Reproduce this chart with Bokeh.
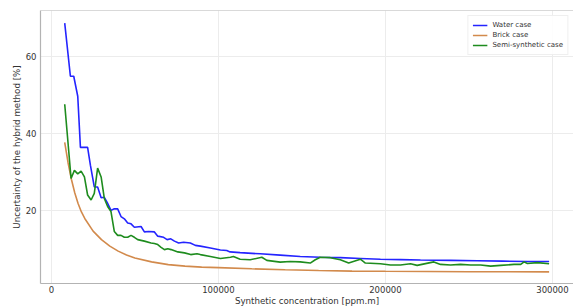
from bokeh.plotting import figure
from bokeh.models import FixedTicker, PrintfTickFormatter, Range1d, Span, Legend, LegendItem
from bokeh.embed import file_html
from bokeh.resources import INLINE

# ---- data (x in ppm.m, values in %) ----
water_x = [8000, 11400, 13400, 15800, 17400, 21700, 23400, 25700, 27700, 29800, 31700, 33400,
           35700, 37700, 39700, 41700, 43700, 45700, 47700, 49700, 53700, 55700, 58300, 61700,
           63700, 67200, 69300, 71500, 73700, 76200, 79200, 83200, 86200, 89200, 95200, 101200,
           105000, 107000, 113000, 125000, 137000, 149000, 161000, 173000, 185000, 197000,
           209000, 221000, 239000, 255000, 270000, 285000, 298000]
water_y = [68.6, 54.8, 54.8, 49.6, 36.3, 36.3, 31.6, 26.0, 26.0, 23.2, 23.3, 22.0,
           19.9, 20.3, 20.3, 18.3, 17.7, 16.6, 16.4, 15.5, 15.7, 14.3, 14.4, 14.3,
           13.2, 12.9, 12.3, 12.5, 11.9, 11.4, 11.6, 11.4, 10.8, 10.6, 10.1, 9.6,
           9.45, 9.1, 8.9, 8.6, 8.25, 7.9, 7.7, 7.6, 7.4, 7.2,
           7.1, 7.0, 6.9, 6.8, 6.7, 6.6, 6.6]

brick_x = [8000, 10000, 12000, 14000, 16000, 18000, 20000, 25000, 30000, 35000, 40000, 45000,
           50000, 60000, 70000, 80000, 90000, 100000, 120000, 140000, 160000, 180000, 200000,
           250000, 298000]
brick_y = [37.6, 32.3, 28.0, 24.5, 21.7, 19.5, 17.8, 14.5, 12.3, 10.6, 9.3, 8.3,
           7.5, 6.5, 5.8, 5.4, 5.15, 5.0, 4.7, 4.45, 4.25, 4.1, 4.05,
           3.95, 3.9]

semi_x = [8000, 11800, 13800, 15800, 17800, 19800, 21700, 23800, 25700, 27700, 29800, 31700,
          33700, 35700, 37700, 39700, 41700, 43700, 45700, 47700, 49700, 51700, 55700, 59700,
          61700, 63700, 65700, 67700, 69700, 71700, 75700, 79700, 83400, 87200, 89200, 95200,
          101200, 107200, 109000, 113000, 119000, 126000, 129000, 137000, 143000, 149000,
          155000, 158000, 161000, 167000, 173000, 178000, 185000, 188000, 197000, 203000,
          209000, 215000, 219000, 229000, 233000, 239000, 245000, 251000, 257000, 263000,
          269000, 277000, 281000, 283000, 285000, 291000, 298000]
semi_y = [47.5, 28.2, 30.3, 29.4, 30.1, 28.6, 23.9, 22.6, 24.3, 30.9, 28.6, 23.0,
          20.9, 19.6, 14.4, 13.4, 13.4, 12.9, 12.9, 13.4, 12.9, 12.3, 11.9, 11.4,
          11.3, 11.0, 10.3, 9.7, 9.9, 9.7, 9.1, 8.85, 8.4, 8.6, 8.4, 7.9,
          7.4, 7.7, 7.9, 7.2, 7.05, 7.7, 6.9, 6.45, 6.6, 6.5,
          6.2, 7.05, 7.7, 7.6, 7.05, 6.2, 7.2, 6.2, 6.0, 5.7,
          5.7, 6.0, 5.6, 6.5, 5.85, 5.7, 5.85, 5.7, 5.7, 5.4,
          5.6, 5.85, 5.85, 6.5, 6.1, 6.3, 6.0]

x_ticks = [0, 100000, 200000, 300000]
y_ticks = [20, 40, 60]
series_names = ["Water case", "Brick case", "Semi-synthetic case"]
series_colors = ["#2424ff", "#d28a4c", "#1e8c1e"]

FONT = "DejaVu Sans"
AXIS_GRAY = "#b3b3b3"

y_end = 71.9
p = figure(width=573, height=308, output_backend="svg", toolbar_location=None,
           x_range=Range1d(-6500, 312600), y_range=Range1d(0.88, y_end),
           min_border_left=40, min_border_top=10, min_border_right=0, min_border_bottom=0)
p.outline_line_color = None
p.background_fill_color = "white"

for ax in (p.xaxis[0], p.yaxis[0]):
    ax.axis_line_color = AXIS_GRAY
    ax.axis_line_width = 1.2
    ax.major_tick_line_color = None
    ax.minor_tick_line_color = None
    ax.major_tick_out = 0
    ax.major_tick_in = 0
    ax.minor_tick_out = 0
    ax.minor_tick_in = 0
    ax.major_label_text_font = FONT
    ax.major_label_text_font_size = "8.5px"
    ax.major_label_text_color = "#333333"
    ax.axis_label_text_font = FONT
    ax.axis_label_text_font_size = "8.7px"
    ax.axis_label_text_font_style = "normal"
    ax.axis_label_text_color = "#333333"

p.xaxis.ticker = FixedTicker(ticks=x_ticks)
p.yaxis.ticker = FixedTicker(ticks=y_ticks)
p.xaxis.formatter = PrintfTickFormatter(format="%d")
p.xaxis.major_label_standoff = 2
p.xaxis.axis_label_standoff = 0
p.yaxis.major_label_standoff = 4
p.yaxis.axis_label_standoff = 1
p.xaxis.axis_label = "Synthetic concentration [ppm.m]"
p.yaxis.axis_label = "Uncertainty of the hybrid method [%]"

p.xgrid.grid_line_color = "#ececec"
p.ygrid.grid_line_color = "#ececec"
p.xgrid.grid_line_width = 1
p.ygrid.grid_line_width = 1

p.add_layout(Span(location=y_end, dimension="width", line_color=AXIS_GRAY, line_width=1.2))

r1 = p.line(water_x, water_y, line_color=series_colors[0], line_width=1.6)
r2 = p.line(brick_x, brick_y, line_color=series_colors[1], line_width=1.6)
r3 = p.line(semi_x, semi_y, line_color=series_colors[2], line_width=1.6)

legend = Legend(items=[LegendItem(label=series_names[0], renderers=[r1]),
                       LegendItem(label=series_names[1], renderers=[r2]),
                       LegendItem(label=series_names[2], renderers=[r3])],
                location="top_right")
legend.margin = 5
legend.padding = 4
legend.spacing = 0
legend.label_height = 10
legend.glyph_height = 10
legend.glyph_width = 15
legend.label_standoff = 5
legend.label_text_font = FONT
legend.label_text_font_size = "7px"
legend.label_text_color = "#333333"
legend.border_line_color = "#e0e0e0"
legend.background_fill_alpha = 0.9
p.add_layout(legend)

open("out.html", "w").write(file_html(p, INLINE))
